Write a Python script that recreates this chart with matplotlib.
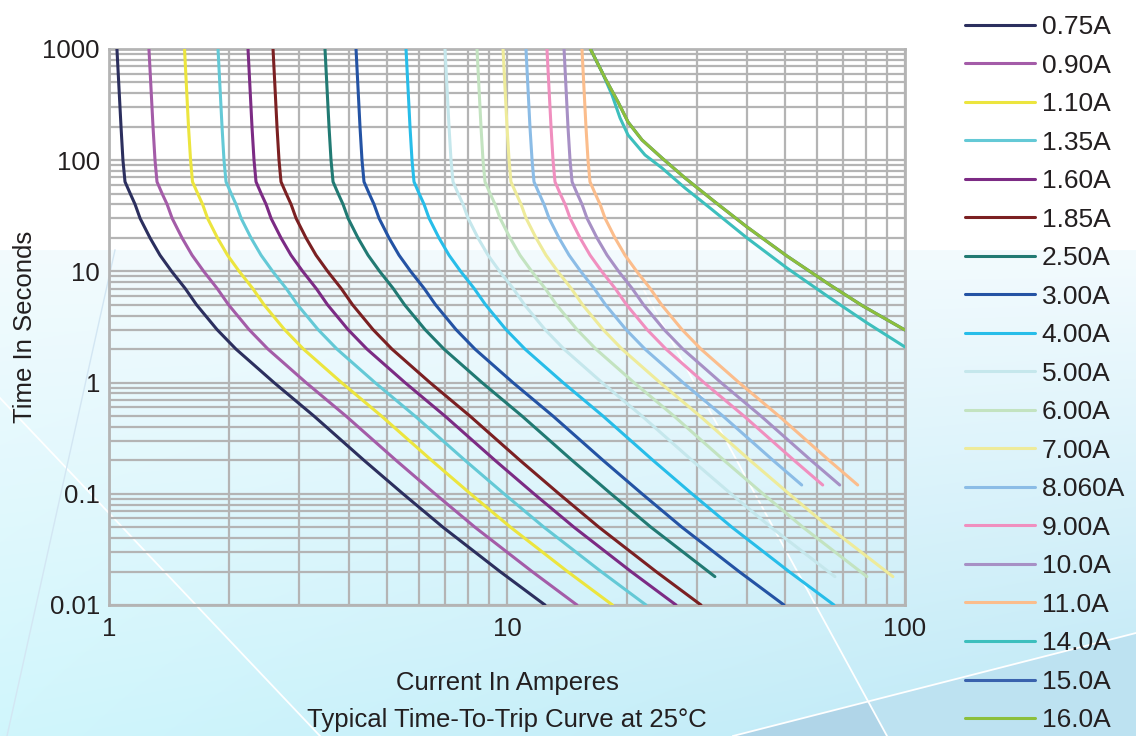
import numpy as np
import matplotlib
matplotlib.use('Agg')
import matplotlib.pyplot as plt
from matplotlib.ticker import LogLocator, FixedLocator, FixedFormatter, NullFormatter

plt.rcParams['font.family'] = ['Liberation Sans', 'DejaVu Sans']

# ---------------- data ----------------
RATINGS = ['0.75A', '0.90A', '1.10A', '1.35A', '1.60A', '1.85A', '2.50A', '3.00A', '4.00A',
           '5.00A', '6.00A', '7.00A', '8.060A', '9.00A', '10.0A', '11.0A', '14.0A', '15.0A', '16.0A']
COLORS = ['#2c2f5e', '#a45ca8', '#ece53e', '#64c9d6', '#7c2b84', '#7b2022', '#217a73', '#2453a4',
          '#27bde9', '#c5e7ec', '#c3e3c0', '#eeeb9a', '#8bbce6', '#f08fbf', '#a790c5', '#fbbd8c',
          '#3dbfbd', '#3a62ad', '#8cbf3c']

# trip time in seconds
TIME_FULL = [1000, 200, 100, 64, 50, 40, 30, 20, 14, 10, 7, 5, 3, 2, 1, 0.5, 0.2, 0.1, 0.05, 0.02, 0.01]
TIME_MID = [1000, 200, 100, 64, 50, 40, 30, 20, 14, 10, 7, 5, 3, 2, 1, 0.5, 0.2, 0.1, 0.05, 0.018]
TIME_SHORT = [1000, 200, 100, 64, 50, 40, 30, 20, 14, 10, 7, 5, 3, 2, 1, 0.5, 0.2, 0.12]
TIME_14 = [1000, 621, 386, 240, 168.5, 111.4, 85.1, 56.2, 37.2, 19.97, 10.73, 5.77, 3.44, 2.09]
TIME_16 = [1000, 548, 334, 220.6, 152, 104.7, 69.2, 42.1, 25.07, 13.76, 7.55, 4.88, 2.97]

# current in amperes
I_075 = [1.047, 1.072, 1.084, 1.097, 1.131, 1.163, 1.197, 1.268, 1.343, 1.437, 1.555, 1.660, 1.868, 2.085, 2.598, 3.274, 4.372, 5.479, 6.906, 9.603, 12.46]
I_090 = [1.260, 1.290, 1.305, 1.320, 1.360, 1.400, 1.441, 1.526, 1.617, 1.730, 1.871, 1.998, 2.248, 2.509, 3.126, 3.940, 5.262, 6.593, 8.310, 11.56, 14.99]
I_110 = [1.548, 1.584, 1.603, 1.621, 1.671, 1.719, 1.769, 1.873, 1.985, 2.124, 2.298, 2.453, 2.760, 3.081, 3.839, 4.838, 6.461, 8.097, 10.21, 14.19, 18.41]
I_135 = [1.879, 1.923, 1.945, 1.968, 2.028, 2.086, 2.148, 2.274, 2.410, 2.578, 2.789, 2.978, 3.351, 3.740, 4.660, 5.873, 7.843, 9.829, 12.39, 17.23, 22.35]
I_160 = [2.235, 2.287, 2.314, 2.341, 2.412, 2.482, 2.554, 2.705, 2.866, 3.067, 3.318, 3.542, 3.986, 4.449, 5.543, 6.986, 9.329, 11.69, 14.74, 20.49, 26.59]
I_185 = [2.583, 2.643, 2.674, 2.705, 2.788, 2.868, 2.952, 3.126, 3.312, 3.544, 3.834, 4.094, 4.606, 5.141, 6.405, 8.073, 10.78, 13.51, 17.03, 23.68, 30.72]
I_250 = [3.489, 3.571, 3.613, 3.655, 3.766, 3.874, 3.988, 4.223, 4.475, 4.788, 5.180, 5.531, 6.223, 6.946, 8.654, 10.91, 14.57, 18.25, 23.01, 33.29]
I_300 = [4.175, 4.272, 4.322, 4.372, 4.506, 4.635, 4.771, 5.053, 5.354, 5.728, 6.197, 6.617, 7.445, 8.310, 10.35, 13.05, 17.43, 21.84, 27.52, 38.28, 49.66]
I_400 = [5.575, 5.705, 5.772, 5.839, 6.017, 6.190, 6.372, 6.747, 7.150, 7.649, 8.275, 8.836, 9.942, 11.10, 13.83, 17.43, 23.27, 29.16, 36.75, 51.11, 66.31]
I_500 = [6.986, 7.150, 7.233, 7.317, 7.540, 7.757, 7.985, 8.455, 8.960, 9.586, 10.37, 11.07, 12.46, 13.91, 17.33, 21.84, 29.16, 36.54, 46.06, 66.66]
I_600 = [8.406, 8.603, 8.703, 8.805, 9.073, 9.334, 9.608, 10.18, 10.78, 11.54, 12.48, 13.32, 14.99, 16.73, 20.85, 26.28, 35.09, 43.97, 55.42, 80.21]
I_700 = [9.772, 10.00, 10.12, 10.23, 10.55, 10.85, 11.17, 11.83, 12.53, 13.41, 14.51, 15.49, 17.43, 19.45, 24.24, 30.54, 40.79, 51.12, 64.43, 93.24]
I_806 = [11.16, 11.42, 11.56, 11.69, 12.05, 12.39, 12.76, 13.51, 14.32, 15.32, 16.57, 17.69, 19.91, 22.22, 27.68, 34.89, 46.60, 55.01]
I_900 = [12.60, 12.90, 13.05, 13.20, 13.60, 14.00, 14.41, 15.26, 16.17, 17.30, 18.71, 19.98, 22.48, 25.09, 31.26, 39.40, 52.62, 62.12]
I_1000 = [13.91, 14.23, 14.40, 14.57, 15.01, 15.44, 15.89, 16.83, 17.84, 19.08, 20.64, 22.04, 24.80, 27.68, 34.49, 43.47, 58.05, 68.54]
I_1100 = [15.43, 15.79, 15.98, 16.16, 16.66, 17.14, 17.64, 18.68, 19.79, 21.18, 22.91, 24.46, 27.52, 30.72, 38.28, 48.24, 64.42, 76.06]
I_1400 = [16.2, 17.33, 18.36, 19.23, 20.14, 22.22, 24.51, 28.01, 32.36, 40.1, 50.5, 64.8, 80.3, 100]
I_1500 = [16.2, 17.63, 19.01, 20.14, 21.84, 24.51, 28.01, 33.31, 40.1, 50.5, 64.8, 78.4, 100]
I_1600 = [16.2, 17.63, 19.01, 20.14, 21.84, 24.51, 28.01, 33.31, 40.1, 50.5, 64.8, 78.4, 100]

X_TICKS = [1, 10, 100]
X_TICK_LABELS = ['1', '10', '100']
Y_TICKS = [0.01, 0.1, 1, 10, 100, 1000]
Y_TICK_LABELS = ['0.01', '0.1', '1', '10', '100', '1000']

CURVES = [
    (I_075, TIME_FULL), (I_090, TIME_FULL), (I_110, TIME_FULL), (I_135, TIME_FULL),
    (I_160, TIME_FULL), (I_185, TIME_FULL), (I_250, TIME_MID), (I_300, TIME_FULL),
    (I_400, TIME_FULL), (I_500, TIME_MID), (I_600, TIME_MID), (I_700, TIME_MID),
    (I_806, TIME_SHORT), (I_900, TIME_SHORT), (I_1000, TIME_SHORT), (I_1100, TIME_SHORT),
    (I_1400, TIME_14), (I_1500, TIME_16), (I_1600, TIME_16),
]

GRID = '#b4b4b4'
TXT = '#231f20'

fig = plt.figure(figsize=(11.36, 7.36), dpi=100)

# ---------------- decorative background ----------------
W, H = 1136, 736
yy, xx = np.mgrid[0:H, 0:W].astype(float)
s = np.clip((yy - 250) / 486.0, 0, 1)[..., None]
h = (xx / W)[..., None]
top = np.array([243, 251, 254]) / 255.0
bot = (np.array([208, 246, 252]) * (1 - h) + np.array([190, 232, 246]) * h) / 255.0
img = top * (1 - s) + bot * s
img[yy < 250] = 1.0

bg = fig.add_axes([0, 0, 1, 1], zorder=-10)
bg.imshow(img, extent=[0, W, H, 0], aspect='auto', interpolation='bilinear')
bg.fill([733, 1136, 1136], [736, 633, 736], color='#bde2f1', lw=0)
bg.fill([733, 868, 887], [736, 701, 736], color='#b0d5e8', lw=0)
bg.plot([622, 887], [250, 736], color='white', lw=1.3)
bg.plot([733, 1136], [736, 633], color='white', lw=1.3)
bg.plot([0, 320], [398, 736], color='white', lw=1.3)
bg.plot([7, 115], [736, 250], color='#d3e6f3', lw=1.0)
bg.set_xlim(0, W)
bg.set_ylim(H, 0)
bg.axis('off')

# ---------------- chart ----------------
ax = fig.add_axes([109 / 1136, 131 / 736, 796 / 1136, 556 / 736])
ax.set_facecolor('none')
ax.set_xscale('log')
ax.set_yscale('log')

lines = []
for k, (cur, tim) in enumerate(CURVES):
    ln, = ax.plot(cur, tim, color=COLORS[k], lw=2.2, label=RATINGS[k],
                  solid_capstyle='round', solid_joinstyle='round', zorder=3)
    lines.append(ln)

ax.set_xlim(1, 100)
ax.set_ylim(0.01, 1000)

ax.xaxis.set_major_locator(FixedLocator(X_TICKS))
ax.xaxis.set_major_formatter(FixedFormatter(X_TICK_LABELS))
ax.yaxis.set_major_locator(FixedLocator(Y_TICKS))
ax.yaxis.set_major_formatter(FixedFormatter(Y_TICK_LABELS))
ax.xaxis.set_minor_locator(LogLocator(base=10, subs=np.arange(2, 10), numticks=20))
ax.yaxis.set_minor_locator(LogLocator(base=10, subs=np.arange(2, 10), numticks=20))
ax.xaxis.set_minor_formatter(NullFormatter())
ax.yaxis.set_minor_formatter(NullFormatter())

ax.grid(True, which='both', color=GRID, lw=1.6)
ax.set_axisbelow(True)
ax.tick_params(which='both', length=0, labelsize=18.5, labelcolor=TXT)
ax.tick_params(axis='x', pad=9)
ax.tick_params(axis='y', pad=6.5)
for sp in ax.spines.values():
    sp.set_color(GRID)
    sp.set_linewidth(2.0)

ax.set_ylabel('Time In Seconds', fontsize=18.5, color=TXT, labelpad=3.8)
ax.set_xlabel('Current In Amperes', fontsize=18.5, color=TXT)
ax.xaxis.set_label_coords(0.5, -(683 - 605) / 556)
ax.xaxis.label.set_va('center')
fig.text(0.5 * (109 + 905) / 1136, 1 - 720 / 736, 'Typical Time-To-Trip Curve at 25°C',
         fontsize=18.5, color=TXT, ha='center', va='center')

fig.legend(lines, RATINGS, loc='upper left', bbox_to_anchor=(965 / 1136, 1 - 15 / 736),
           frameon=False, fontsize=19, handlelength=2.65, handletextpad=0.25,
           labelspacing=0.55, borderpad=0, borderaxespad=0, labelcolor=TXT)

fig.savefig('out.png', dpi=100)
